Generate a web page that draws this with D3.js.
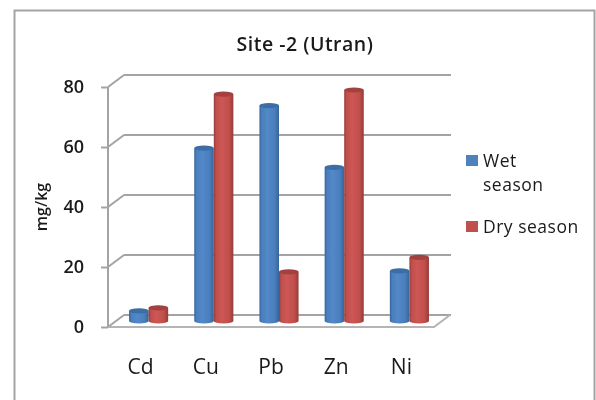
<!DOCTYPE html>
<html>
<head>
<meta charset="utf-8">
<script src="https://cdn.jsdelivr.net/npm/d3@7"></script>
<style>
  body { margin: 0; background: #fff; }
  svg { display: block; filter: blur(0.4px); }
  text { font-family: "Open Sans", sans-serif; fill: #1a1a1a; }
</style>
</head>
<body>
<svg width="596" height="400"></svg>
<script>
// Values
const categories = ["Cd", "Cu", "Pb", "Zn", "Ni"];
const wetSeason = [3.4, 57.6, 71.8, 51.2, 16.7];
const drySeason = [4.4, 75.6, 16.4, 77, 21.2];
const yTicks = [0, 20, 40, 60, 80];
const seriesNames = ["Wet season", "Dry season"];

const svg = d3.select("svg");

const gray = "#a3a3a3";

// Scales for the front plane, the back wall is the same thing shifted by depth
const x = d3.scaleBand()
  .domain(categories)
  .range([108, 434])
  .paddingInner(0.4)
  .paddingOuter(0.2);
const xSeries = d3.scaleBand()
  .domain(seriesNames)
  .range([0, x.bandwidth()]);
const y = d3.scaleLinear().domain([0, 80]).range([327, 87]);
const depthX = 16, depthY = -12;

// Outer frame
svg.append("rect")
  .attr("x", 14.5).attr("y", 10.5)
  .attr("width", 580).attr("height", 400)
  .attr("fill", "none")
  .attr("stroke", gray)
  .attr("stroke-width", 2);

svg.append("text")
  .attr("x", 305).attr("y", 51)
  .attr("text-anchor", "middle")
  .attr("font-size", 19.5)
  .attr("font-weight", 600)
  .attr("letter-spacing", 0.5)
  .text("Site -2 (Utran)");

// Back wall gridlines and side wall diagonals
const grid = svg.append("g")
  .attr("stroke", gray)
  .attr("stroke-width", 2)
  .attr("fill", "none");

grid.selectAll("line.back")
  .data(yTicks)
  .join("line")
  .attr("class", "back")
  .attr("x1", 108 + depthX).attr("x2", 434 + depthX + 1)
  .attr("y1", d => y(d) + depthY).attr("y2", d => y(d) + depthY);

grid.selectAll("line.side")
  .data(yTicks)
  .join("line")
  .attr("class", "side")
  .attr("x1", 108).attr("x2", 108 + depthX)
  .attr("y1", d => y(d)).attr("y2", d => y(d) + depthY);

// Floor front edge and right edge
grid.append("path")
  .attr("d", d3.line()([[108, y(0)], [434, y(0)], [434 + depthX, y(0) + depthY]]))
  .attr("stroke", "#b4b4b4");

// Front y axis with outside ticks
const yAxis = svg.append("g")
  .attr("transform", "translate(108,0)")
  .call(d3.axisLeft(y).tickValues(yTicks).tickSize(7).tickPadding(17));
yAxis.selectAll("line, path").attr("stroke", gray).attr("stroke-width", 2);
yAxis.select("path").attr("d", `M0,${y(80)}V${y(0)}`);
yAxis.selectAll("text")
  .attr("font-size", 18)
  .attr("font-weight", 600)
  .attr("font-family", '"Open Sans", sans-serif')
  .attr("fill", "#1a1a1a");

svg.append("text")
  .attr("transform", "translate(47,207) rotate(-90)")
  .attr("text-anchor", "middle")
  .attr("font-size", 16)
  .attr("font-weight", 600)
  .text("mg/kg");

// Cylinder shading
const defs = svg.append("defs");
function cylinderGradient(id, edge, mid, light) {
  const g = defs.append("linearGradient").attr("id", id);
  [[0, edge], [0.12, mid], [0.4, light], [0.78, mid], [1, edge]].forEach(s => {
    g.append("stop").attr("offset", s[0]).attr("stop-color", s[1]);
  });
}
cylinderGradient("wetGrad", "#35659b", "#4a7ebd", "#5389c9");
cylinderGradient("dryGrad", "#943c3a", "#c04f4c", "#cd5754");

const barSeries = [
  { name: seriesNames[0], values: wetSeason, grad: "url(#wetGrad)", cap: "#3c6da5" },
  { name: seriesNames[1], values: drySeason, grad: "url(#dryGrad)", cap: "#a2413f" }
];

const capRy = 2.6;
const bars = svg.append("g")
  .attr("transform", `translate(${depthX / 2},${depthY / 2})`);

barSeries.forEach(s => {
  const w = xSeries.bandwidth();
  const g = bars.append("g");
  const cell = g.selectAll("g")
    .data(s.values)
    .join("g")
    .attr("transform", (d, i) => `translate(${x(categories[i]) + xSeries(s.name)},0)`);
  cell.append("path")
    .attr("d", d => `M0,${y(d)}V${y(0)}A${w / 2},${capRy} 0 0 0 ${w},${y(0)}V${y(d)}Z`)
    .attr("fill", s.grad);
  cell.append("ellipse")
    .attr("cx", w / 2).attr("cy", d => y(d))
    .attr("rx", w / 2).attr("ry", capRy)
    .attr("fill", s.cap);
});

// Category labels
svg.append("g")
  .selectAll("text")
  .data(categories)
  .join("text")
  .attr("x", d => x(d) + x.bandwidth() / 2)
  .attr("y", 374)
  .attr("text-anchor", "middle")
  .attr("font-size", 21)
  .text(d => d);

// Legend
const legendRows = [
  { lines: ["Wet", "season"], color: "#4f81bd", top: 155 },
  { lines: ["Dry season"], color: "#c0504d", top: 221 }
];
const legend = svg.append("g");
legendRows.forEach(r => {
  legend.append("rect")
    .attr("x", 466).attr("y", r.top)
    .attr("width", 12).attr("height", 11)
    .attr("fill", r.color);
  r.lines.forEach((t, i) => {
    legend.append("text")
      .attr("x", 483)
      .attr("y", r.top + 11.5 + i * 24)
      .attr("font-size", 17.5)
      .attr("letter-spacing", 0.5)
      .text(t);
  });
});
</script>
</body>
</html>
